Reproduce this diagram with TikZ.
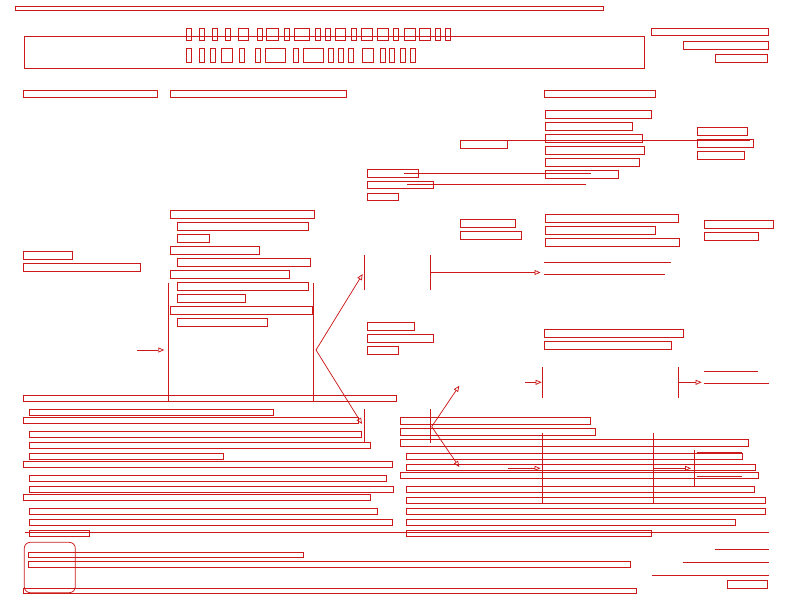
\documentclass[tikz,border=0pt]{standalone}
\usetikzlibrary{arrows.meta}
\definecolor{couleurtrait}{HTML}{CC1A1A}
\tikzset{
		trait/.style={draw=couleurtrait, line width=0.75pt},
		cadre/.style={trait},
		carte/.style={trait, rounded corners=6pt},
		barre/.style={trait},
		fleche/.style={trait, -{Triangle[open, length=6pt, width=5pt]}}
	}

\begin{document}
\begin{tikzpicture}[x=1pt, y=-1pt]
		\useasboundingbox (0,0) rectangle (792,612);
		% en-tete
		\draw[cadre] (15.3,6) rectangle (603.3,10.5);
		\draw[cadre] (24,36) rectangle (644,68);
		\foreach \xa/\xb in {186/191.5, 199.3/204.3, 212.3/217.5, 225.3/230.5, 238.3/248.8, 257.3/262.5, 266.5/278.5, 284.3/289.5, 294.3/309.5, 315/320.5, 325.3/330.3, 335.3/345.7, 351.3/356.3, 361/372.5, 377.7/388.3, 393.7/398.8, 404.5/415, 419.8/430.5, 435.3/440.5, 445.3/450.5}
			\draw[cadre] (\xa,28) rectangle (\xb,40.3);
		\foreach \xa/\xb in {186/191.3, 199.3/204.3, 210.3/215.5, 221.2/232.7, 239.2/244, 255.2/260.3, 265.3/285.3, 293.7/298.5, 303.3/323.3, 328.3/333.3, 338.3/343.3, 348.7/353.7, 362.3/373.2, 380/385, 389.5/394.5, 400/405, 410/415.5}
			\draw[cadre] (\xa,48.7) rectangle (\xb,62);
		\foreach \xa/\ya/\xb/\yb in {651.3/28.3/768.3/35.5, 683.3/41.3/768.3/49.3, 715.3/54/767.3/62.3, 23.3/90/157.3/97.3, 170.3/90/346.3/97.3, 544.3/90.3/655.3/97.3}
			\draw[cadre] (\xa,\ya) rectangle (\xb,\yb);
		% bloc droit
		\foreach \xa/\ya/\xb/\yb in {545.3/110.3/651.3/118, 545.3/122.3/632.7/130.3, 545.3/134.3/642.7/142.3, 545.3/146.3/644.7/154.3, 545.3/158.3/639.7/166.3, 545.3/170.3/618.5/178.3, 460.3/140.3/507.3/148.3, 697.3/127.5/747.3/135.3, 697.3/139.3/753.3/147.3, 697.3/151.3/744.3/159.3, 367.3/169.3/418.5/177, 367.3/181.3/433.3/188.8, 367.3/193.3/398.7/200.3, 460.3/219.3/515.7/227.3, 460.3/231.3/521.7/239.3, 545.3/214.3/678.3/222.3, 545.3/226.3/655.3/234.3, 545.3/238.3/679.7/246.3, 704.3/220.3/773.3/228.3, 704.3/232.3/758.3/240.3}
			\draw[cadre] (\xa,\ya) rectangle (\xb,\yb);
		% bloc gauche
		\foreach \xa/\ya/\xb/\yb in {170.3/210.3/314.3/218.3, 177.3/222.3/308.3/230.3, 177.3/234.3/209.3/242.3, 170.3/246.3/259.3/254.3, 177.3/258.3/310.3/266.3, 170.3/270.3/289.3/278.3, 177.3/282.3/308.3/290.3, 177.3/294.3/245.3/302.3, 170.3/306.3/312.7/314.3, 177.3/318.3/267.3/326.3, 23.3/251/72.3/259.3, 23.3/263/140.3/271.3}
			\draw[cadre] (\xa,\ya) rectangle (\xb,\yb);
		% milieu
		\foreach \xa/\ya/\xb/\yb in {367.3/322.3/414.7/330.3, 367.3/334.3/433.3/342.3, 367.3/346.3/398.7/354.3, 544.3/329.3/683.3/337.3, 544.3/341.3/671.3/349.3}
			\draw[cadre] (\xa,\ya) rectangle (\xb,\yb);
		% bas gauche
		\foreach \xa/\ya/\xb/\yb in {23.3/395/396.7/401.5, 29.3/409.3/273.3/415.3, 23.3/417.3/358.3/423.3, 29.3/431.3/361.3/437.3, 29.3/442.3/370.3/448.3, 29.3/453.3/223.3/459.3, 23.3/461.3/392.3/467.3, 29.3/475.3/386.7/481.3, 29.3/486.3/393.3/492.3, 23.3/494.3/370.3/500.3, 29.3/508.3/377.3/514.3, 29.3/519.3/392.3/525.3, 29.3/530.3/89.3/536.3}
			\draw[cadre] (\xa,\ya) rectangle (\xb,\yb);
		% bas droit
		\foreach \xa/\ya/\xb/\yb in {400.3/417.3/590.3/424.3, 400.3/428.3/595.3/435.3, 400.3/439.3/748.3/446.3, 406.3/453.3/742.3/459.3, 406.3/464.3/755.3/470.3, 400.3/472.3/758.3/478.3, 406.3/486.3/754.3/492.3, 406.3/497.3/765.3/503.3, 406.3/508.3/765.3/514.3, 406.3/519.3/735.3/525.3, 406.3/530.3/651.3/536.3}
			\draw[cadre] (\xa,\ya) rectangle (\xb,\yb);
		% pied
		\foreach \xa/\ya/\xb/\yb in {28.3/552.3/303.3/557.3, 28.3/561.3/630.7/567.3, 23.3/588.3/636.7/593.3, 727.3/580.3/767.3/588.3}
			\draw[cadre] (\xa,\ya) rectangle (\xb,\yb);
		\draw[carte] (24.3,542.3) rectangle (75.3,592.7);
		% traits
		\foreach \xa/\xb/\y in {507.3/750/140.3, 404.3/590.7/173.3, 407.3/585.7/184.3, 544.3/670.7/262.3, 544.3/665/274.3, 704/757.7/371.3, 704/768.7/383.3, 25/769/532.3, 715/769/549.3, 682.7/769/562.3, 652.3/769/575, 696.7/742.3/452.7, 696.7/742.3/476.7}
			\draw[trait] (\xa,\y) -- (\xb,\y);
		% barres
		\foreach \x/\ya/\yb in {168.3/283.3/402.3, 313.3/283.3/402.3, 364.3/255/290, 430.3/255/290, 364.3/409/443.3, 542.3/366.7/398.3, 678.3/366.7/398.3, 430.3/409.3/443.3, 542.5/433.3/503.3, 653.3/433.3/503.3, 694.3/450/486}
			\draw[barre] (\x,\ya) -- (\x,\yb);
		% fleches
		\coordinate (entree) at (137.3,350);
		\coordinate (bordgauche) at (164.3,350);
		\coordinate (fourchea) at (316,350);
		\coordinate (hauta) at (362.7,274);
		\coordinate (basa) at (362,424);
		\coordinate (departb) at (430.3,272.5);
		\coordinate (arriveeb) at (540.5,272.5);
		\coordinate (departc) at (525,382.3);
		\coordinate (arriveec) at (541.7,382.3);
		\coordinate (departd) at (678.3,382.3);
		\coordinate (arriveed) at (701.7,382.3);
		\coordinate (fourcheb) at (431.7,426.7);
		\coordinate (hautb) at (459.3,385.7);
		\coordinate (basb) at (459.3,467);
		\coordinate (departe) at (508.3,468.3);
		\coordinate (arrivee) at (540.5,468.3);
		\coordinate (departf) at (652.7,468.3);
		\coordinate (arriveef) at (691,468.3);
		\draw[fleche] (entree) -- (bordgauche);
		\draw[fleche] (fourchea) -- (hauta);
		\draw[fleche] (fourchea) -- (basa);
		\draw[fleche] (departb) -- (arriveeb);
		\draw[fleche] (departc) -- (arriveec);
		\draw[fleche] (departd) -- (arriveed);
		\draw[fleche] (fourcheb) -- (hautb);
		\draw[fleche] (fourcheb) -- (basb);
		\draw[fleche] (departe) -- (arrivee);
		\draw[fleche] (departf) -- (arriveef);
	\end{tikzpicture}
\end{document}
